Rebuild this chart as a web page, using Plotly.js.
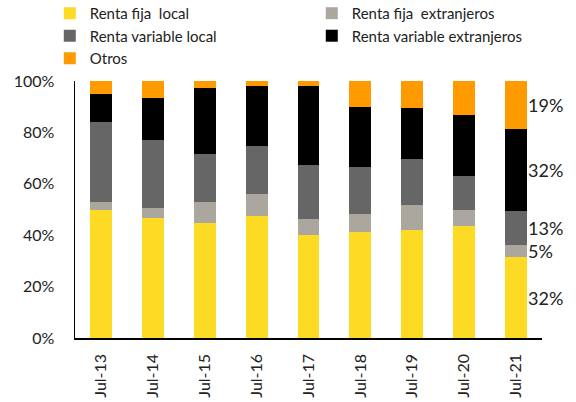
<!DOCTYPE html>
<html>
<head>
<meta charset="utf-8">
<script src="https://cdn.plot.ly/plotly-3.0.1.min.js"></script>
<style>
  html, body { margin: 0; padding: 0; background: #fff; }
  #chart { width: 576px; height: 402px; }
</style>
</head>
<body>
<div id="chart"></div>
<script>
// Categories and shares (%)
const years = ["Jul-13", "Jul-14", "Jul-15", "Jul-16", "Jul-17", "Jul-18", "Jul-19", "Jul-20", "Jul-21"]

const rfLocal = [49.8, 46.8, 44.9, 47.5, 40.1, 41.2, 41.9, 43.7, 31.5]
const rfExtranjeros = [3.1, 3.8, 8.0, 8.5, 6.2, 6.9, 9.9, 6.1, 4.8]
const rvLocal = [31.0, 26.4, 18.7, 18.7, 21.0, 18.4, 17.8, 13.1, 13.2]
const rvExtranjeros = [11.0, 16.5, 25.8, 23.4, 30.8, 23.5, 19.8, 24.0, 31.8]
const otros = [5.1, 6.5, 2.6, 1.9, 1.9, 10.0, 10.6, 13.1, 18.7]

// Labels shown next to the last bar
const lastLabels = ["32%", "5%", "13%", "32%", "19%"]

const series = [
	{name: "Renta fija  local", y: rfLocal, color: "#FDDA24"},
	{name: "Renta fija  extranjeros", y: rfExtranjeros, color: "#ABA69E"},
	{name: "Renta variable local", y: rvLocal, color: "#666666"},
	{name: "Renta variable extranjeros", y: rvExtranjeros, color: "#000000"},
	{name: "Otros", y: otros, color: "#FF9B00"}
]

let traces = series.map(s => ({
	type: 'bar',
	name: s.name,
	x: years,
	y: s.y,
	width: 0.42,
	marker: {color: s.color, line: {width: 0}},
	hoverinfo: 'skip'
}))

// Segment mid-points of the last bar for the value labels
let last = years.length - 1
let base = 0
let annotations = []
series.forEach((s, i) => {
	let v = s.y[last]
	annotations.push({
		x: last + 0.2, y: base + v / 2,
		xref: 'x', yref: 'y',
		text: lastLabels[i],
		showarrow: false,
		xanchor: 'left', yanchor: 'middle',
		font: {size: 18, color: '#222'}
	})
	base += v
})

let layout = {
	width: 576,
	height: 402,
	barmode: 'stack',
	font: {family: 'Lato, "Open Sans", sans-serif', color: '#222'},
	margin: {t: 81, b: 64, l: 75, r: 34, autoexpand: false},
	paper_bgcolor: '#fff',
	plot_bgcolor: '#fff',
	showlegend: true,
	// legend sits left of and above the plot so it may use the full width (2 columns)
	legend: {
		orientation: 'h',
		xref: 'paper', yref: 'paper',
		x: -0.054, y: 1.327,
		xanchor: 'left', yanchor: 'top',
		entrywidth: 217,
		entrywidthmode: 'pixels',
		traceorder: 'normal',
		font: {size: 15, color: '#222'},
		itemwidth: 30,
		tracegroupgap: 0,
		bgcolor: 'rgba(0,0,0,0)'
	},
	xaxis: {
		type: 'category',
		range: [-0.5, 8.5],
		tickangle: -90,
		tickfont: {size: 16},
		ticklabelstandoff: 8,
		showline: true, linecolor: '#000', linewidth: 1.5,
		ticks: '', showgrid: false, zeroline: false
	},
	yaxis: {
		range: [0, 100],
		dtick: 20,
		ticksuffix: '%',
		tickfont: {size: 16},
		ticklabelstandoff: 16,
		showline: true, linecolor: '#000', linewidth: 1.5,
		ticks: '', showgrid: false, zeroline: false
	},
	annotations: annotations
}

Plotly.newPlot('chart', traces, layout, {displayModeBar: false, staticPlot: true})
</script>
</body>
</html>
